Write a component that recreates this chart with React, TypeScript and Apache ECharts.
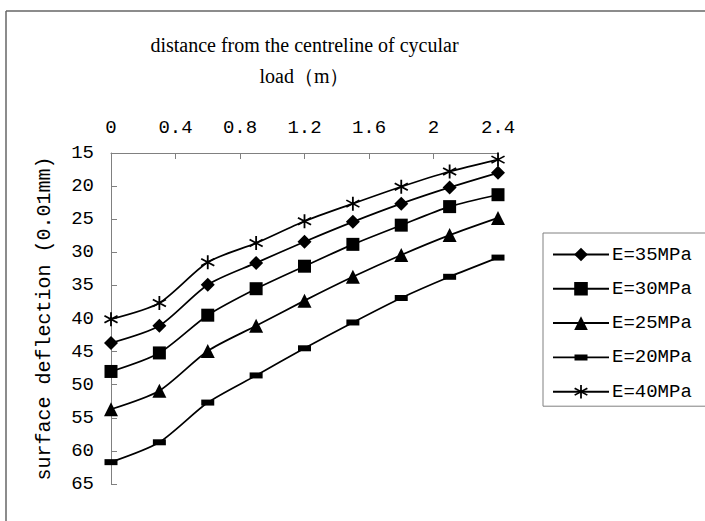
import React, { useEffect, useRef } from "react";
import * as echarts from "echarts";

const distances = [0, 0.3, 0.6, 0.9, 1.2, 1.5, 1.8, 2.1, 2.4];
const seriesNames = ["E=35MPa", "E=30MPa", "E=25MPa", "E=20MPa", "E=40MPa"];
const e35 = [43.7, 41.1, 34.9, 31.6, 28.4, 25.4, 22.65, 20.2, 18.0];
const e30 = [48.0, 45.2, 39.5, 35.5, 32.1, 28.8, 25.9, 23.1, 21.3];
const e25 = [53.7, 50.9, 44.9, 41.1, 37.3, 33.7, 30.4, 27.4, 24.8];
const e20 = [61.7, 58.7, 52.7, 48.6, 44.5, 40.6, 36.9, 33.7, 30.8];
const e40 = [40.1, 37.65, 31.5, 28.6, 25.3, 22.65, 20.1, 17.8, 16.0];
const xTitle = "distance from the centreline of cycular\nload（m）";
const yTitle = "surface deflection (0.01mm)";

const STAR =
  "path://M-1.2,-10L-1.2,10L1.2,10L1.2,-10Z" +
  "M-9.26,-3.96L8.06,6.04L9.26,3.96L-8.06,-6.04Z" +
  "M8.06,-6.04L-9.26,3.96L-8.06,6.04L9.26,-3.96Z";
// legend icon for the bar-marker series: thin line with a short thick bar in the middle
const BAR_LEGEND =
  "path://M0,7.6L0,9.4L21.5,9.4L21.5,11.5L34.5,11.5L34.5,9.4L56,9.4L56,7.6L34.5,7.6L34.5,5.5L21.5,5.5L21.5,7.6Z";

const symbols: any[] = ["diamond", "rect", "triangle", "rect", STAR];
const sizes: any[] = [14, 13, 14, [13, 6], 14];

export default function App() {
  const ref = useRef<HTMLDivElement>(null);
  useEffect(() => {
    const chart = echarts.init(ref.current!, null, { renderer: "svg" });
    const allData = [e35, e30, e25, e20, e40];
    const mono = "Liberation Mono";
    chart.setOption({
      animation: false,
      backgroundColor: "#ffffff",
      grid: { left: 111, right: 207, top: 153, bottom: 37 },
      legend: {
        orient: "vertical",
        left: 543,
        top: 233,
        width: 161,
        padding: [12, 20, 5, 9],
        itemGap: 15.3,
        itemWidth: 56,
        itemHeight: 17,
        borderColor: "#808080",
        borderWidth: 1,
        backgroundColor: "#ffffff",
        textStyle: { fontFamily: mono, fontSize: 19, color: "#000", padding: [0, 0, 0, -2] },
        data: seriesNames.map((n, i) =>
          i === 3 ? { name: n, icon: BAR_LEGEND } : { name: n }
        ),
      },
      xAxis: {
        type: "value",
        position: "top",
        min: 0,
        max: 2.4,
        interval: 0.4,
        name: xTitle,
        nameLocation: "middle",
        nameGap: 62,
        nameTextStyle: { fontFamily: "Liberation Serif", fontSize: 20, color: "#000", lineHeight: 31 },
        axisLine: { show: true, lineStyle: { color: "#808080", width: 1 } },
        axisTick: { show: true, inside: true, length: 6, lineStyle: { color: "#808080" } },
        axisLabel: { fontFamily: mono, fontSize: 19, color: "#000", margin: 16 },
        splitLine: { show: false },
      },
      yAxis: {
        type: "value",
        inverse: true,
        min: 15,
        max: 65,
        interval: 5,
        name: yTitle,
        nameLocation: "middle",
        nameRotate: 90,
        nameGap: 57,
        nameTextStyle: { fontFamily: mono, fontSize: 20, color: "#000" },
        axisLine: { show: true, lineStyle: { color: "#808080", width: 1 } },
        axisTick: { show: true, inside: true, length: 6, lineStyle: { color: "#808080" } },
        axisLabel: { fontFamily: mono, fontSize: 19, color: "#000", margin: 17 },
        splitLine: { show: false },
      },
      series: seriesNames.map((name, i) => ({
        name,
        type: "line",
        smooth: 0.25,
        data: distances.map((d, j) => [d, allData[i][j]]),
        symbol: symbols[i],
        symbolSize: sizes[i],
        lineStyle: { color: "#000", width: 1.7 },
        itemStyle: { color: "#000" },
      })),
      graphic: [
        { type: "line", shape: { x1: 6, y1: 11, x2: 705, y2: 11 }, style: { stroke: "#666", lineWidth: 1.5 } },
        { type: "line", shape: { x1: 6, y1: 11, x2: 6, y2: 521 }, style: { stroke: "#666", lineWidth: 1.5 } },
      ],
    });
    return () => chart.dispose();
  }, []);
  return (
    <div
      ref={ref}
      style={{ position: "fixed", left: 0, top: 0, width: 705, height: 521 }}
    />
  );
}
